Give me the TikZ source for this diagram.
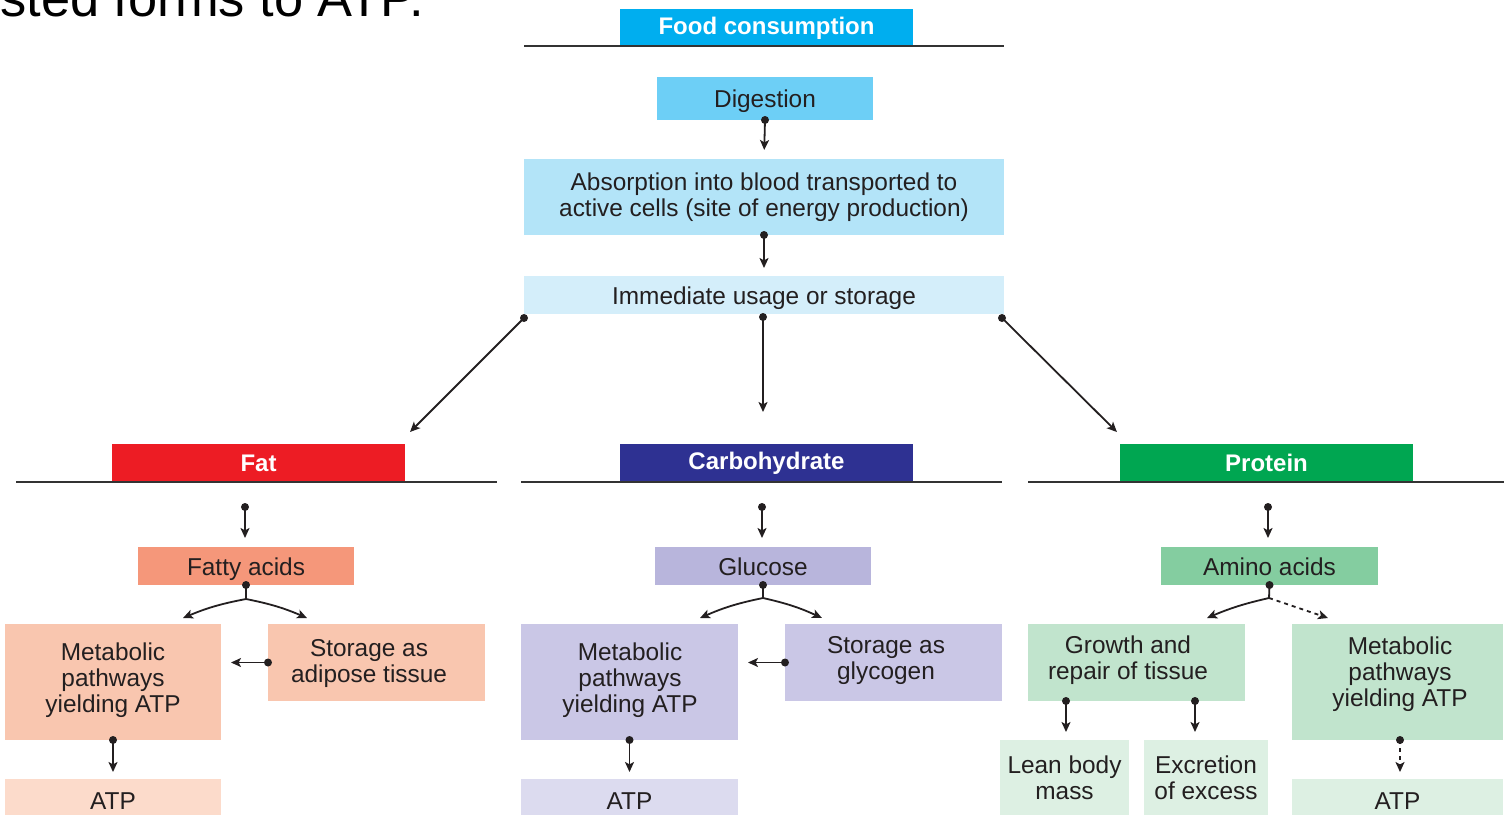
\documentclass[tikz,border=0pt]{standalone}
\usepackage{fontspec}
\setmainfont{Liberation Sans}
\usetikzlibrary{arrows.meta}

\definecolor{txt}{HTML}{231F20}
\definecolor{rulegray}{HTML}{333333}
\definecolor{foodcyan}{HTML}{00AEEF}
\definecolor{digest}{HTML}{6DCFF6}
\definecolor{absorb}{HTML}{B3E4F8}
\definecolor{usage}{HTML}{D4EEFA}
\definecolor{fatred}{HTML}{ED1C24}
\definecolor{fatty}{HTML}{F5977A}
\definecolor{fatlight}{HTML}{F9C6AF}
\definecolor{fatpale}{HTML}{FCDBCB}
\definecolor{carbnavy}{HTML}{2E3192}
\definecolor{gluc}{HTML}{B8B5DC}
\definecolor{carblight}{HTML}{CAC7E6}
\definecolor{carbpale}{HTML}{DCDBEF}
\definecolor{protgreen}{HTML}{00A651}
\definecolor{amino}{HTML}{84CDA0}
\definecolor{protlight}{HTML}{C1E4CD}
\definecolor{protpale}{HTML}{DDF0E3}

\begin{document}
\begin{tikzpicture}[
	x = 0.5pt, y = -0.5pt, % one unit is one pixel of the layout
	> = {Stealth[length=5pt, width=4.5pt, inset=1.2pt]}, % arrow head style
	lbl/.style={inner sep=0pt, align=center, text=txt, font=\fontsize{12.2}{13}\selectfont},
	box/.style={lbl, rectangle, outer sep=0pt, anchor=north west},
	one/.style={text height=11pt, text depth=2pt}, % single line boxes
	head/.style={box, text=white, font=\fontsize{12}{13}\selectfont\bfseries, minimum width=146.5pt, minimum height=19pt},
	dot/.style={circle, fill=txt, inner sep=0pt, minimum size=4pt},
	link/.style={->, draw=txt, line width=0.9pt},
	stem/.style={draw=txt, line width=0.9pt},
	rule/.style={draw=rulegray, line width=1pt},
	]
	\useasboundingbox (0,0) rectangle (1504,814);
	\clip (0,0) rectangle (1504,814);

	% Slide text, cut at the top
	\node[anchor=base west, inner sep=0pt, font=\fontsize{26.2}{28}\selectfont] (slide) at (0,16.5) {sted forms to ATP.};

	% Top part
	\node[head, fill=foodcyan] (food) at (620,9) {Food consumption};
	\draw[rule] (524,46) -- (1004,46);
	\node[box, one, fill=digest, minimum width=108pt, minimum height=21.5pt] (dig) at (657,77) {Digestion};
	\node[box, fill=absorb, minimum width=240pt, minimum height=38pt] (abs) at (524,159) {Absorption into blood transported to\\active cells (site of energy production)};
	\node[box, one, fill=usage, minimum width=240pt, minimum height=19pt] (use) at (524,276) {Immediate usage or storage};

	\node[dot] (d1) at (dig.south) {};
	\draw[link, shorten >=4.5pt] (d1.center) -- (abs.north);
	\node[dot] (d2) at (abs.south) {};
	\draw[link, shorten >=4pt] (d2.center) -- (use.north);

	% Three food groups
	\node[head, fill=fatred] (fat) at (112,444) {Fat};
	\node[head, fill=carbnavy] (carb) at (620,444) {Carbohydrate};
	\node[head, fill=protgreen] (prot) at (1120,444) {Protein};
	\draw[rule] (16,482) -- (497,482);
	\draw[rule] (521,482) -- (1002,482);
	\draw[rule] (1028,482) -- (1504,482);

	\node[dot] (u1) at (524,318) {};
	\node[dot] (u2) at (763,317) {};
	\node[dot] (u3) at (1002,318) {};
	\coordinate (fatin) at (398,444);
	\coordinate (protin) at (1129,444);
	\draw[link, shorten >=8.5pt] (u1.center) -- (fatin);
	\draw[link, shorten >=16pt] (u2.center) -- (u2 |- carb.north);
	\draw[link, shorten >=8.5pt] (u3.center) -- (protin);

	\node[box, one, fill=fatty, minimum width=108pt, minimum height=19pt] (fa) at (138,547) {Fatty acids};
	\node[box, one, fill=gluc, minimum width=108pt, minimum height=19pt] (gl) at (655,547) {Glucose};
	\node[box, one, fill=amino, minimum width=108.5pt, minimum height=19pt] (am) at (1161,547) {Amino acids};

	\node[dot] (f0) at (245,507) {};
	\node[dot] (c0) at (762,507) {};
	\node[dot] (p0) at (1268,507) {};
	\draw[link, shorten >=4.5pt] (f0.center) -- (f0 |- fa.north);
	\draw[link, shorten >=4.5pt] (c0.center) -- (c0 |- gl.north);
	\draw[link, shorten >=4.5pt] (p0.center) -- (p0 |- am.north);

	% Fat
	\node[box, fill=fatlight, minimum width=108pt, minimum height=58pt] (fm) at (5,624) {};
	\node[lbl] (fmt) at (113,680) {Metabolic\\pathways\\yielding ATP};
	\node[box, fill=fatlight, minimum width=108.5pt, minimum height=38.5pt] (fs) at (268,624) {};
	\node[lbl] (fst) at (369,663.5) {Storage as\\adipose tissue};
	\node[box, one, fill=fatpale, minimum width=108pt, minimum height=21pt] (fatp) at (5,779) {ATP};

	\node[dot] (fa0) at (fa.south) {};
	\coordinate (fa1) at (246,599);
	\coordinate (fal) at (183,618);
	\coordinate (far) at (307,618);
	\draw[stem] (fa0.center) -- (fa1);
	\draw[link] (fa1) to[bend right=6] (fal);
	\draw[link] (fa1) to[bend left=6] (far);
	\node[dot] (fs0) at (fs.west) {};
	\draw[link, shorten >=5pt] (fs0.center) -- (fs0 -| fm.east);
	\node[dot] (fm0) at (fm.south) {};
	\draw[link, shorten >=3.5pt] (fm0.center) -- (fatp.north);

	% Carbohydrate
	\node[box, fill=carblight, minimum width=108.5pt, minimum height=58pt] (cm) at (521,624) {};
	\node[lbl] (cmt) at (630,680) {Metabolic\\pathways\\yielding ATP};
	\node[box, fill=carblight, minimum width=108.5pt, minimum height=38.5pt] (cs) at (785,624) {};
	\node[lbl] (cst) at (886,661) {Storage as\\glycogen};
	\node[box, one, fill=carbpale, minimum width=108.5pt, minimum height=21pt] (carbp) at (521,779) {ATP};

	\node[dot] (gl0) at (gl.south) {};
	\coordinate (gl1) at (763,598);
	\coordinate (gll) at (700,618);
	\coordinate (glr) at (822,618);
	\draw[stem] (gl0.center) -- (gl1);
	\draw[link] (gl1) to[bend right=6] (gll);
	\draw[link] (gl1) to[bend left=6] (glr);
	\node[dot] (cs0) at (cs.west) {};
	\draw[link, shorten >=5pt] (cs0.center) -- (cs0 -| cm.east);
	\node[dot] (cm0) at (cm.south) {};
	\draw[link, shorten >=3.5pt] (cm0.center) -- (carbp.north);

	% Protein
	\node[box, fill=protlight, minimum width=108.5pt, minimum height=38.5pt] (gr) at (1028,624) {};
	\node[lbl] (grt) at (1128,660.5) {Growth and\\repair of tissue};
	\node[box, fill=protlight, minimum width=105.5pt, minimum height=58pt] (pm) at (1292,624) {};
	\node[lbl] (pmt) at (1400,674) {Metabolic\\pathways\\yielding ATP};
	\node[box, fill=protpale, minimum width=64.5pt, minimum height=38pt] (lean) at (1000,740) {Lean body\\mass};
	\node[box, fill=protpale, minimum width=62pt, minimum height=38pt] (exc) at (1144,740) {Excretion\\of excess};
	\node[box, one, fill=protpale, minimum width=105.5pt, minimum height=21pt] (protp) at (1292,779) {ATP};

	\node[dot] (am0) at (am.south) {};
	\coordinate (am1) at (1269,598);
	\coordinate (aml) at (1207,618);
	\coordinate (amr) at (1328,618);
	\draw[stem] (am0.center) -- (am1);
	\draw[link] (am1) to[bend right=5] (aml);
	\draw[link, dash pattern=on 2pt off 2pt] (am1) -- (amr);
	\node[dot] (g1) at (1066,701) {};
	\node[dot] (g2) at (1195,701) {};
	\draw[link, shorten >=4pt] (g1.center) -- (g1 |- lean.north);
	\draw[link, shorten >=4pt] (g2.center) -- (g2 |- exc.north);
	\node[dot] (pm0) at (1400,740) {};
	\draw[link, dash pattern=on 2pt off 2pt, shorten >=3.5pt] (pm0.center) -- (pm0 |- protp.north);

\end{tikzpicture}
\end{document}
